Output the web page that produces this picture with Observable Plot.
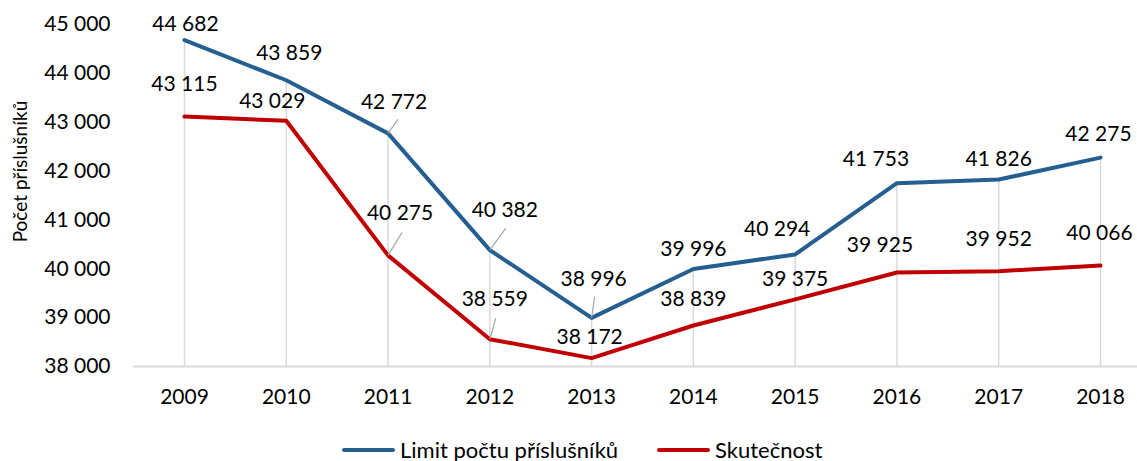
<!DOCTYPE html>
<html>
<head>
<meta charset="utf-8">
<script src="https://cdn.jsdelivr.net/npm/d3@7"></script>
<script src="https://cdn.jsdelivr.net/npm/@observablehq/plot@0.6"></script>
<style>
  html, body { margin: 0; padding: 0; background: #fff; }
  #wrap { width: 1137px; font-family: Lato, "Open Sans", sans-serif; color: #000; }
  .legend { display: flex; justify-content: flex-start; align-items: center; height: 41px; padding-left: 342px; box-sizing: border-box; font-size: 22px; margin-top: 9px; }
  .legend .item { display: flex; align-items: center; margin-right: 39px; }
  .legend .sw { width: 53px; height: 4px; border-radius: 2px; margin-right: 5px; }
</style>
</head>
<body>
<div id="wrap"></div>
<script>
// ---- data ----
const years = [2009, 2010, 2011, 2012, 2013, 2014, 2015, 2016, 2017, 2018];
const limitValues = [44682, 43859, 42772, 40382, 38996, 39996, 40294, 41753, 41826, 42275];
const actualValues = [43115, 43029, 40275, 38559, 38172, 38839, 39375, 39925, 39952, 40066];
const seriesNames = ["Limit počtu příslušníků", "Skutečnost"];
const seriesColors = ["#255E91", "#C00000"];
const yTicks = [38000, 39000, 40000, 41000, 42000, 43000, 44000, 45000];
const yTitle = "Počet příslušníků";

// ---- label placement (pixel offsets of each data label from its point) ----
const limitLabelOffsets = [[1,-16],[3,-27],[6,-31],[15,-40],[2,-39],[0,-20],[-18,-25],[-21,-24],[0,-20],[-2,-23]];
const actualLabelOffsets = [[0,-32],[-14,-20],[12,-42],[5,-40],[-2,-21],[0,-26],[0,-20],[-17,-27],[0,-32],[-1,-32]];
// leader lines: [seriesIndex, yearIndex, endDx, endDy]
const leaderLines = [[0,2,10,-14],[0,3,16,-22],[0,4,3,-21],[1,2,14,-23],[1,3,6,-21]];

// ---- build ----
const fmt = d3.formatLocale({decimal: ",", thousands: "\u00a0", grouping: [3], currency: ["", ""]}).format(",d");
const rows = [];
[limitValues, actualValues].forEach((vals, s) => {
  const offs = s === 0 ? limitLabelOffsets : actualLabelOffsets;
  vals.forEach((v, i) => rows.push({series: seriesNames[s], year: years[i], value: v, dx: offs[i][0], dy: offs[i][1]}));
});

const W = 1137, H = 420, mL = 133, mR = 0, mT = 24, mB = 54;
const xRange = [184, 1100];
const yDomain = [38000, 45000];
const pxPerYear = (xRange[1] - xRange[0]) / (years[years.length-1] - years[0]);
const pxPerUnit = (H - mB - mT) / (yDomain[1] - yDomain[0]);
const leaders = leaderLines.map(([s, i, ex, ey]) => {
  const v = (s === 0 ? limitValues : actualValues)[i];
  return {x1: years[i], y1: v, x2: years[i] + ex / pxPerYear, y2: v - ey / pxPerUnit};
});
const drops = years.map((y, i) => ({year: y, top: Math.max(limitValues[i], actualValues[i])}));

const FS = 21;
const chart = Plot.plot({
  width: W, height: H,
  marginLeft: mL, marginRight: mR, marginTop: mT, marginBottom: mB,
  style: {fontFamily: "Lato, 'Open Sans', sans-serif", fontSize: FS + "px", color: "#000", background: "#fff"},
  x: {type: "linear", domain: [years[0], years[years.length-1]], range: xRange},
  y: {domain: yDomain},
  color: {domain: seriesNames, range: seriesColors},
  marks: [
    Plot.ruleX(drops, {x: "year", y1: yDomain[0], y2: "top", stroke: "#d9d9d9", strokeWidth: 1.5}),
    Plot.ruleY([yDomain[0]], {stroke: "#d9d9d9", strokeWidth: 2}),
    Plot.line(rows, {x: "year", y: "value", z: "series", stroke: "series", strokeWidth: 4, strokeLinecap: "round", strokeLinejoin: "round"}),
    Plot.link(leaders, {x1: "x1", y1: "y1", x2: "x2", y2: "y2", stroke: "#a6a6a6", strokeWidth: 1.2}),
    ...rows.map(r => Plot.text([r], {x: "year", y: "value", text: d => fmt(d.value), dx: r.dx, dy: r.dy, fill: "#000", fontSize: FS})),
    Plot.axisY({ticks: yTicks, tickSize: 0, tickPadding: 23, tickFormat: fmt, label: null, fontSize: FS, fill: "#000"}),
    Plot.axisX({ticks: years, tickSize: 0, tickPadding: 23, tickFormat: d => String(d), label: null, fontSize: FS, fill: "#000"}),
    Plot.text([yTitle], {frameAnchor: "left", textAnchor: "middle", text: d => d, rotate: -90, dx: -113, dy: -24, fill: "#000", fontSize: 19})
  ]
});

const wrap = document.getElementById("wrap");
wrap.appendChild(chart);
const legend = document.createElement("div");
legend.className = "legend";
seriesNames.forEach((n, i) => {
  const it = document.createElement("div");
  it.className = "item";
  const sw = document.createElement("span");
  sw.className = "sw";
  sw.style.background = seriesColors[i];
  const tx = document.createElement("span");
  tx.textContent = n;
  it.appendChild(sw); it.appendChild(tx);
  legend.appendChild(it);
});
wrap.appendChild(legend);
</script>
</body>
</html>
